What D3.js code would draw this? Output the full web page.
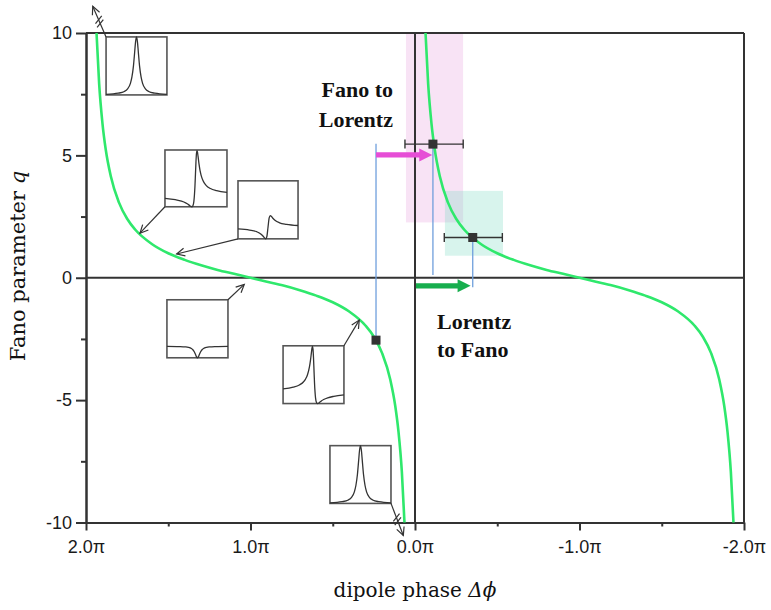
<!DOCTYPE html>
<html>
<head>
<meta charset="utf-8">
<script src="https://cdn.jsdelivr.net/npm/d3@7"></script>
<style>
  body { margin: 0; background: #fff; }
  svg { display: block; }
</style>
</head>
<body>
<svg id="chart" width="771" height="610"></svg>
<script>
// Phase values are in units of π; q is the Fano parameter.
const phaseTicks = [2, 1, 0, -1, -2];
const phaseTickLabels = ["2.0π", "1.0π", "0.0π", "-1.0π", "-2.0π"];
const phaseMinorTicks = [1.5, 0.5, -0.5, -1.5];
const qTicks = [10, 5, 0, -5, -10];
const qTickLabels = ["10", "5", "0", "-5", "-10"];
const qMinorTicks = [7.5, 2.5, -2.5, -7.5];

// q versus dipole phase, two branches
const leftBranchPhase = [1.936, 1.92, 1.9, 1.88, 1.85, 1.8, 1.75, 1.7, 1.6, 1.5, 1.4, 1.3, 1.2, 1.1, 1.0,
                         0.9, 0.8, 0.7, 0.6, 0.5, 0.4, 0.3, 0.25, 0.2, 0.15, 0.12, 0.1, 0.08, 0.064];
const leftBranchQ = [10, 7.92, 6.31, 5.24, 4.17, 3.08, 2.41, 1.96, 1.38, 1.0, 0.73, 0.51, 0.32, 0.16, 0,
                     -0.16, -0.32, -0.51, -0.73, -1.0, -1.38, -1.96, -2.41, -3.08, -4.17, -5.24, -6.31, -7.92, -10];
const rightBranchPhase = [-0.064, -0.08, -0.1, -0.12, -0.15, -0.2, -0.25, -0.3, -0.4, -0.5, -0.6, -0.7, -0.8, -0.9, -1.0,
                          -1.1, -1.2, -1.3, -1.4, -1.5, -1.6, -1.7, -1.75, -1.8, -1.85, -1.88, -1.9, -1.92, -1.936];
const rightBranchQ = [10, 7.92, 6.31, 5.24, 4.17, 3.08, 2.41, 1.96, 1.38, 1.0, 0.73, 0.51, 0.32, 0.16, 0,
                      -0.16, -0.32, -0.51, -0.73, -1.0, -1.38, -1.96, -2.41, -3.08, -4.17, -5.24, -6.31, -7.92, -10];

// measured points
const pointPhase = [-0.109, -0.351, 0.237];
const pointQ = [5.46, 1.645, -2.55];
const errorFrom = [0.061, -0.178];
const errorTo = [-0.293, -0.531];

// shaded ranges
const bandPhase = [[0.055, -0.292], [-0.182, -0.535]];
const bandQ = [[10, 2.26], [3.55, 0.90]];
const bandColor = ["#e7a3df", "#7ddcc3"];

// vertical guide lines: phase, q from, q to
const guidePhase = [-0.109, 0.237, -0.351];
const guideQFrom = [5.46, 5.47, 1.645];
const guideQTo = [0.11, -2.55, -0.39];

// block arrows: phase from, phase to, q level
const shiftFrom = [0.237, -0.006];
const shiftTo = [-0.105, -0.338];
const shiftQ = [5.02, -0.33];
const shiftColor = ["#e64ed6", "#17ae4e"];

// line-shape insets
const lorentzShape = {
  detuning: [-10, -6, -4, -3, -2, -1.5, -1, -0.6, -0.3, 0, 0.3, 0.6, 1, 1.5, 2, 3, 4, 6, 10],
  intensity: [0.01, 0.03, 0.06, 0.1, 0.2, 0.31, 0.5, 0.74, 0.92, 1, 0.92, 0.74, 0.5, 0.31, 0.2, 0.1, 0.06, 0.03, 0.01],
  max: 1
};
const fanoHighShape = {
  detuning: [-15, -10, -7, -5, -4, -3, -2.5, -2, -1.5, -1, -0.5, -0.25, 0, 0.25, 0.5, 0.75, 1, 1.5, 2, 3, 4, 5, 7, 10, 15],
  intensity: [0.75, 0.63, 0.5, 0.35, 0.24, 0.1, 0.03, 0, 0.08, 0.5, 1.8, 2.88, 4, 4.76, 5, 4.84, 4.5, 3.77, 3.2, 2.5, 2.12, 1.88, 1.62, 1.43, 1.28],
  max: 5.05
};
const fanoMidShape = {
  detuning: [-13, -8, -5, -3, -2, -1.5, -1, -0.5, 0, 0.5, 1, 1.5, 2, 3, 5, 8, 13],
  intensity: [0.85, 0.75, 0.62, 0.4, 0.2, 0.08, 0, 0.2, 1, 1.8, 2, 1.92, 1.8, 1.6, 1.38, 1.25, 1.15],
  max: 5
};
const windowShape = {
  detuning: [-10, -6, -4, -3, -2, -1.5, -1, -0.6, -0.3, 0, 0.3, 0.6, 1, 1.5, 2, 3, 4, 6, 10],
  intensity: [0.99, 0.97, 0.94, 0.9, 0.8, 0.69, 0.5, 0.26, 0.08, 0, 0.08, 0.26, 0.5, 0.69, 0.8, 0.9, 0.94, 0.97, 0.99],
  max: 5
};
const fanoNegShape = {
  detuning: [-15, -10, -7, -5, -4, -3, -2, -1.5, -1, -0.75, -0.5, -0.25, 0, 0.25, 0.5, 1, 1.5, 2, 2.5, 3, 4, 5, 7, 10, 15],
  intensity: [1.28, 1.43, 1.62, 1.88, 2.12, 2.5, 3.2, 3.77, 4.5, 4.84, 5, 4.76, 4, 2.88, 1.8, 0.5, 0.08, 0, 0.03, 0.1, 0.24, 0.35, 0.5, 0.63, 0.75],
  max: 5.05
};
const insetPhaseSpan = [[1.878, 1.508], [1.520, 1.143], [1.076, 0.711], [1.508, 1.137], [0.802, 0.432], [0.517, 0.146]];
const insetQSpan = [[9.84, 7.47], [5.22, 2.90], [3.96, 1.59], [-0.90, -3.27], [-2.78, -5.14], [-6.86, -9.22]];
const insetShapes = [lorentzShape, fanoHighShape, fanoMidShape, windowShape, fanoNegShape, lorentzShape];

// pointers from insets to the curve: start (phase, q), tip (phase, q), broken?
const pointerFrom = [[1.878, 9.84], [1.520, 2.90], [1.076, 1.59], [1.137, -0.90], [0.432, -2.78], [0.146, -9.22]];
const pointerTo = [[1.959, 11.09], [1.672, 1.82], [1.449, 0.97], [1.038, -0.27], [0.339, -1.73], [0.071, -10.53]];
const pointerBroken = [true, false, false, false, false, true];

const svg = d3.select("#chart");
const margin = { left: 86, top: 33, right: 27, bottom: 87.5 };
const W = 771 - margin.left - margin.right;
const H = 610 - margin.top - margin.bottom;

const x = d3.scaleLinear().domain([2, -2]).range([margin.left, margin.left + W]);
const y = d3.scaleLinear().domain([-10, 10]).range([margin.top + H, margin.top]);

const ink = "#333";

// shaded bands
svg.append("g").selectAll("rect").data(bandPhase).join("rect")
  .attr("x", (d) => x(d[0]))
  .attr("width", (d) => x(d[1]) - x(d[0]))
  .attr("y", (d, i) => y(bandQ[i][0]))
  .attr("height", (d, i) => y(bandQ[i][1]) - y(bandQ[i][0]))
  .attr("fill", (d, i) => bandColor[i])
  .attr("fill-opacity", 0.3);

// frame and zero lines
const frame = svg.append("g").attr("stroke", ink).attr("stroke-width", 2).attr("fill", "none");
frame.append("line").attr("x1", x(2)).attr("x2", x(-2)).attr("y1", y(10)).attr("y2", y(10));
frame.append("line").attr("x1", x(-2)).attr("x2", x(-2)).attr("y1", y(10)).attr("y2", y(-10));
frame.append("line").attr("x1", x(2)).attr("x2", x(-2)).attr("y1", y(0)).attr("y2", y(0));
frame.append("line").attr("x1", x(0)).attr("x2", x(0)).attr("y1", y(10)).attr("y2", y(-10));

// axes
const fontSans = "'Liberation Sans', Arial, Helvetica, sans-serif";
svg.append("g").attr("transform", `translate(${margin.left},0)`)
  .call(d3.axisLeft(y).tickValues(qTicks).tickFormat((d, i) => qTickLabels[i]).tickSize(10).tickSizeOuter(0).tickPadding(4));
svg.append("g").attr("transform", `translate(${margin.left},0)`)
  .call(d3.axisLeft(y).tickValues(qMinorTicks).tickFormat("").tickSize(5).tickSizeOuter(0));
svg.append("g").attr("transform", `translate(0,${margin.top + H})`)
  .call(d3.axisBottom(x).tickValues(phaseTicks).tickFormat((d, i) => phaseTickLabels[i]).tickSize(8).tickSizeOuter(0).tickPadding(10));
svg.append("g").attr("transform", `translate(0,${margin.top + H})`)
  .call(d3.axisBottom(x).tickValues(phaseMinorTicks).tickFormat("").tickSize(4).tickSizeOuter(0));
svg.selectAll(".domain, .tick line").attr("stroke", ink).attr("stroke-width", 2);
svg.selectAll(".tick text").attr("font-family", fontSans).attr("font-size", 18).attr("fill", "#1a1a1a");

// guide lines
svg.append("g").selectAll("line").data(guidePhase).join("line")
  .attr("x1", (d) => x(d)).attr("x2", (d) => x(d))
  .attr("y1", (d, i) => y(guideQFrom[i])).attr("y2", (d, i) => y(guideQTo[i]))
  .attr("stroke", "#6f9fdc").attr("stroke-width", 1.3);

// curve
const line = d3.line().x((d) => x(d[0])).y((d) => y(d[1])).curve(d3.curveMonotoneX);
const branches = [d3.zip(leftBranchPhase, leftBranchQ), d3.zip(rightBranchPhase, rightBranchQ)];
svg.append("g").selectAll("path").data(branches).join("path")
  .attr("d", line)
  .attr("fill", "none")
  .attr("stroke", "#2fe86c")
  .attr("stroke-width", 2.6);

// block arrows
svg.append("g").selectAll("path").data(shiftFrom).join("path")
  .attr("d", (d, i) => {
    const x0 = x(d), x1 = x(shiftTo[i]), yc = y(shiftQ[i]);
    const head = 13, hw = 6.5, sw = 2.6;
    const xh = x1 - head;
    return `M${x0},${yc - sw}L${xh},${yc - sw}L${xh},${yc - hw}L${x1},${yc}L${xh},${yc + hw}L${xh},${yc + sw}L${x0},${yc + sw}Z`;
  })
  .attr("fill", (d, i) => shiftColor[i]);

// error bars
const eb = svg.append("g").attr("stroke", ink).attr("stroke-width", 1.4);
errorFrom.forEach((d, i) => {
  const yc = y(pointQ[i]);
  eb.append("line").attr("x1", x(d)).attr("x2", x(errorTo[i])).attr("y1", yc).attr("y2", yc);
  [d, errorTo[i]].forEach((p) => {
    eb.append("line").attr("x1", x(p)).attr("x2", x(p)).attr("y1", yc - 4.5).attr("y2", yc + 4.5);
  });
});

// measured points
svg.append("g").selectAll("rect").data(pointPhase).join("rect")
  .attr("x", (d) => x(d) - 4.5)
  .attr("y", (d, i) => y(pointQ[i]) - 4.5)
  .attr("width", 9).attr("height", 9)
  .attr("fill", ink);

// insets
const insetG = svg.append("g");
insetShapes.forEach((shape, i) => {
  const x0 = x(insetPhaseSpan[i][0]), x1 = x(insetPhaseSpan[i][1]);
  const y0 = y(insetQSpan[i][0]), y1 = y(insetQSpan[i][1]);
  const g = insetG.append("g");
  g.append("rect").attr("x", x0).attr("y", y0).attr("width", x1 - x0).attr("height", y1 - y0)
    .attr("fill", "#fff").attr("stroke", "#555").attr("stroke-width", 1.6);
  const sx = d3.scaleLinear().domain(d3.extent(shape.detuning)).range([x0, x1]);
  const sy = d3.scaleLinear().domain([0, shape.max]).range([y1, y0]);
  const pl = d3.line().x((d) => sx(d[0])).y((d) => sy(d[1])).curve(d3.curveMonotoneX);
  g.append("path").attr("d", pl(d3.zip(shape.detuning, shape.intensity)))
    .attr("fill", "none").attr("stroke", "#333").attr("stroke-width", 1.3);
});

// pointers
const pg = svg.append("g").attr("stroke", ink).attr("stroke-width", 1.2).attr("fill", "none");
pointerFrom.forEach((p, i) => {
  const ax = x(p[0]), ay = y(p[1]);
  const bx = x(pointerTo[i][0]), by = y(pointerTo[i][1]);
  pg.append("line").attr("x1", ax).attr("y1", ay).attr("x2", bx).attr("y2", by);
  const ang = Math.atan2(by - ay, bx - ax);
  const L = 9, spread = 0.45;
  pg.append("path").attr("d",
    `M${bx - L * Math.cos(ang - spread)},${by - L * Math.sin(ang - spread)}L${bx},${by}L${bx - L * Math.cos(ang + spread)},${by - L * Math.sin(ang + spread)}`);
  if (pointerBroken[i]) {
    const mx = ax + (bx - ax) * 0.5, my = ay + (by - ay) * 0.5;
    const ux = Math.cos(ang), uy = Math.sin(ang);
    const dx = Math.cos(-0.9), dy = Math.sin(-0.9);
    [-2, 2].forEach((o) => {
      const cx = mx + ux * o, cy = my + uy * o;
      pg.append("line")
        .attr("x1", cx - dx * 5).attr("y1", cy - dy * 5)
        .attr("x2", cx + dx * 5).attr("y2", cy + dy * 5);
    });
  }
});

// annotations
const fontSerif = "'DejaVu Serif', 'Liberation Serif', serif";
const noteFont = "'Liberation Serif', 'Times New Roman', serif";
const notes = [
  { lines: ["Fano to", "Lorentz"], phase: 0.134, q: [7.39, 6.16], anchor: "end" },
  { lines: ["Lorentz", "to Fano"], phase: -0.134, q: [-2.08, -3.22], anchor: "start" }
];
notes.forEach((n) => {
  n.lines.forEach((t, j) => {
    svg.append("text").attr("x", x(n.phase)).attr("y", y(n.q[j]))
      .attr("text-anchor", n.anchor)
      .attr("font-family", noteFont).attr("font-weight", "bold").attr("font-size", 22)
      .attr("fill", "#111").text(t);
  });
});

// axis titles
const xt = svg.append("text").attr("x", margin.left + W / 2).attr("y", 597)
  .attr("text-anchor", "middle").attr("font-family", fontSerif).attr("font-size", 20).attr("fill", "#111");
xt.append("tspan").text("dipole phase ");
xt.append("tspan").attr("font-style", "italic").text("Δϕ");

const yt = svg.append("text").attr("transform", "translate(25,266) rotate(-90)")
  .attr("text-anchor", "middle").attr("font-family", fontSerif).attr("font-size", 21).attr("fill", "#111");
yt.append("tspan").text("Fano parameter ");
yt.append("tspan").attr("font-style", "italic").text("q");
</script>
</body>
</html>
